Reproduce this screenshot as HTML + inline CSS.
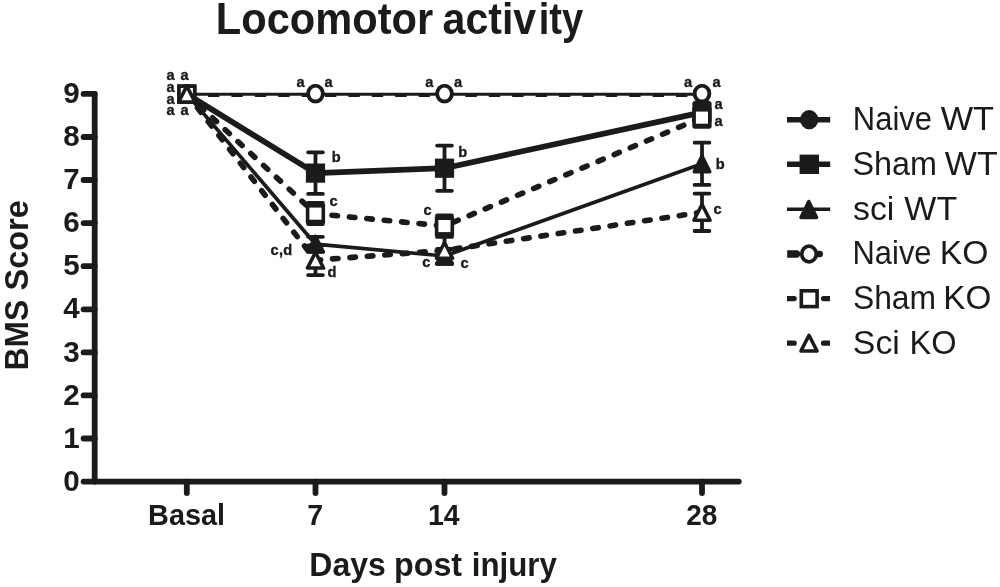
<!DOCTYPE html>
<html lang="en"><head><meta charset="utf-8"><title>Locomotor activity</title>
<style>html,body{margin:0;padding:0;background:#fff;}body{width:1000px;height:587px;overflow:hidden;}svg{display:block;}text{font-family:'Liberation Sans', sans-serif;fill:#1b1b1b;font-kerning:none;}</style>
</head><body>
<svg width="1000" height="587" viewBox="0 0 1000 587">
<rect width="1000" height="587" fill="#fff"/>
<g font-weight="bold">
<text y="34.0" font-size="44.3"><tspan x="215.81" textLength="217.42" lengthAdjust="spacingAndGlyphs">Locomotor</tspan> <tspan x="442.60" textLength="93.58" lengthAdjust="spacingAndGlyphs">activ</tspan><tspan x="538.74" textLength="44.47" lengthAdjust="spacingAndGlyphs">ity</tspan></text>
</g>
<g stroke="#1b1b1b" stroke-width="5.8" stroke-linecap="round" fill="none">
<path d="M94.7 93.8 V481.6"/>
<path d="M83.6 481.6 H738.8"/>
<path d="M83.6 438.5 H94.7"/>
<path d="M83.6 395.4 H94.7"/>
<path d="M83.6 352.4 H94.7"/>
<path d="M83.6 309.3 H94.7"/>
<path d="M83.6 266.2 H94.7"/>
<path d="M83.6 223.1 H94.7"/>
<path d="M83.6 180.0 H94.7"/>
<path d="M83.6 137.0 H94.7"/>
<path d="M83.6 93.9 H94.7"/>
<path d="M186.8 481.6 V493.1"/>
<path d="M315.5 481.6 V493.1"/>
<path d="M444.5 481.6 V493.1"/>
<path d="M702.0 481.6 V493.1"/>
</g>
<g font-weight="bold" font-size="29.6">
<text x="79.7" y="490.7" text-anchor="end">0</text>
<text x="79.7" y="447.6" text-anchor="end">1</text>
<text x="79.7" y="404.5" text-anchor="end">2</text>
<text x="79.7" y="361.5" text-anchor="end">3</text>
<text x="79.7" y="318.4" text-anchor="end">4</text>
<text x="79.7" y="275.3" text-anchor="end">5</text>
<text x="79.7" y="232.2" text-anchor="end">6</text>
<text x="79.7" y="189.1" text-anchor="end">7</text>
<text x="79.7" y="146.1" text-anchor="end">8</text>
<text x="79.7" y="103.0" text-anchor="end">9</text>
<text x="148.07" y="525.3" font-size="29.6" textLength="76.97" lengthAdjust="spacingAndGlyphs">Basal</text>
<text x="307.37" y="525.3" font-size="29.6" textLength="15.88" lengthAdjust="spacingAndGlyphs">7</text>
<text x="428.00" y="525.3" font-size="29.6" textLength="31.75" lengthAdjust="spacingAndGlyphs">14</text>
<text x="686.23" y="525.3" font-size="29.6" textLength="31.13" lengthAdjust="spacingAndGlyphs">28</text>
</g>
<g font-weight="bold">
<text y="576.4" font-size="33.2"><tspan x="309.36" textLength="76.45" lengthAdjust="spacingAndGlyphs">Days</tspan> <tspan x="394.08" textLength="68.02" lengthAdjust="spacingAndGlyphs">post</tspan> <tspan x="471.82" textLength="85.05" lengthAdjust="spacingAndGlyphs">injury</tspan></text>
<g transform="translate(27.7 0) rotate(-90)">
<text y="0.0" font-size="33.6"><tspan x="-370.43" textLength="70.67" lengthAdjust="spacingAndGlyphs">BMS</tspan> <tspan x="-290.54" textLength="90.25" lengthAdjust="spacingAndGlyphs">Score</tspan></text>
</g></g>
<g fill="none" stroke="#1b1b1b">
<path d="M186.8 95.1 H702.0" stroke-width="3.8" stroke-dasharray="11.4 12" stroke-dashoffset="-21.2"/>
<path d="M186.8 94.2 H702.0" stroke-width="3"/>
<polyline points="186.8,94.0 315.5,173.1 444.5,168.2 702.0,112.4" stroke-width="5.7" stroke-linejoin="round"/>
<polyline points="186.8,94.0 315.5,244.2 444.5,256.0 702.0,163.8" stroke-width="3.7" stroke-linejoin="round"/>
<polyline points="186.8,94.0 315.5,213.7 444.5,226.0 702.0,117.6" stroke-width="5.6" stroke-linecap="round" stroke-dasharray="5.6 11.88"/>
<polyline points="186.8,94.0 315.5,260.2 444.5,250.4 702.0,212.3" stroke-width="5.6" stroke-linecap="round" stroke-dasharray="5.6 11.88"/>
</g>
<g fill="none" stroke="#1b1b1b" stroke-width="3.8" stroke-linecap="round">
<path d="M315.5 152.3 V193.9 M308.1 152.3 H322.9 M308.1 193.9 H322.9"/>
<path d="M444.5 145.6 V190.8 M437.1 145.6 H451.9 M437.1 190.8 H451.9"/>
<path d="M315.5 236.8 V251.6 M308.1 236.8 H322.9 M308.1 251.6 H322.9"/>
<path d="M444.5 249.0 V263.0 M437.1 249.0 H451.9 M437.1 263.0 H451.9"/>
<path d="M702.0 142.7 V184.9 M694.6 142.7 H709.4 M694.6 184.9 H709.4"/>
<path d="M315.5 203.0 V224.0 M308.1 203.0 H322.9 M308.1 224.0 H322.9"/>
<path d="M444.5 215.5 V236.2 M437.1 215.5 H451.9 M437.1 236.2 H451.9"/>
<path d="M315.5 245.4 V275.1 M308.1 245.4 H322.9 M308.1 275.1 H322.9"/>
<path d="M444.5 236.9 V263.9 M437.1 236.9 H451.9 M437.1 263.9 H451.9"/>
<path d="M702.0 193.6 V231.0 M694.6 193.6 H709.4 M694.6 231.0 H709.4"/>
<path d="M702.0 103.0 V121.8 M694.6 103.0 H709.4 M694.6 121.8 H709.4"/>
<path d="M702.0 108.4 V126.8 M694.6 108.4 H709.4 M694.6 126.8 H709.4"/>
</g>
<ellipse cx="186.8" cy="93.7" rx="9.2" ry="9.6" fill="#1b1b1b"/>
<ellipse cx="315.5" cy="93.7" rx="9.2" ry="9.6" fill="#1b1b1b"/>
<ellipse cx="444.5" cy="93.7" rx="9.2" ry="9.6" fill="#1b1b1b"/>
<ellipse cx="702.0" cy="93.7" rx="9.2" ry="9.6" fill="#1b1b1b"/>
<rect x="177.2" y="84.4" width="19.2" height="19.2" fill="#1b1b1b"/>
<rect x="305.9" y="163.5" width="19.2" height="19.2" fill="#1b1b1b"/>
<rect x="434.9" y="158.6" width="19.2" height="19.2" fill="#1b1b1b"/>
<rect x="692.4" y="102.8" width="19.2" height="19.2" fill="#1b1b1b"/>
<path d="M186.8 86.1 L194.6 101.9 L179.0 101.9 Z" fill="#1b1b1b" stroke="#1b1b1b" stroke-width="3.5" stroke-linejoin="round"/>
<path d="M315.5 236.3 L323.3 252.1 L307.7 252.1 Z" fill="#1b1b1b" stroke="#1b1b1b" stroke-width="3.5" stroke-linejoin="round"/>
<path d="M444.5 248.1 L452.3 263.9 L436.7 263.9 Z" fill="#1b1b1b" stroke="#1b1b1b" stroke-width="3.5" stroke-linejoin="round"/>
<path d="M702.0 155.9 L709.8 171.7 L694.2 171.7 Z" fill="#1b1b1b" stroke="#1b1b1b" stroke-width="3.5" stroke-linejoin="round"/>
<ellipse cx="186.8" cy="93.6" rx="7.3" ry="7.85" fill="#fff" stroke="#1b1b1b" stroke-width="3.7"/>
<ellipse cx="315.5" cy="93.6" rx="7.3" ry="7.85" fill="#fff" stroke="#1b1b1b" stroke-width="3.7"/>
<ellipse cx="444.5" cy="93.6" rx="7.3" ry="7.85" fill="#fff" stroke="#1b1b1b" stroke-width="3.7"/>
<ellipse cx="702.0" cy="93.6" rx="7.3" ry="7.85" fill="#fff" stroke="#1b1b1b" stroke-width="3.7"/>
<rect x="179.0" y="86.2" width="15.7" height="15.7" fill="#fff" stroke="#1b1b1b" stroke-width="3.6"/>
<rect x="307.6" y="205.8" width="15.7" height="15.7" fill="#fff" stroke="#1b1b1b" stroke-width="3.6"/>
<rect x="436.6" y="218.2" width="15.7" height="15.7" fill="#fff" stroke="#1b1b1b" stroke-width="3.6"/>
<rect x="694.1" y="109.8" width="15.7" height="15.7" fill="#fff" stroke="#1b1b1b" stroke-width="3.6"/>
<path d="M186.8 86.1 L194.9 101.9 L178.7 101.9 Z" fill="#fff" stroke="#1b1b1b" stroke-width="3.5" stroke-linejoin="round"/>
<path d="M315.5 252.3 L323.6 268.1 L307.4 268.1 Z" fill="#fff" stroke="#1b1b1b" stroke-width="3.5" stroke-linejoin="round"/>
<path d="M444.5 242.5 L452.6 258.3 L436.4 258.3 Z" fill="#fff" stroke="#1b1b1b" stroke-width="3.5" stroke-linejoin="round"/>
<path d="M702.0 204.4 L710.1 220.2 L693.9 220.2 Z" fill="#fff" stroke="#1b1b1b" stroke-width="3.5" stroke-linejoin="round"/>
<g font-weight="bold" font-size="14.6" stroke="#1b1b1b" stroke-width="0.35">
<text x="166.4" y="80.0">a</text>
<text x="180.6" y="79.6">a</text>
<text x="166.4" y="91.7">a</text>
<text x="166.4" y="103.5">a</text>
<text x="166.4" y="115.2">a</text>
<text x="180.6" y="115.2">a</text>
<text x="296.5" y="86.8">a</text>
<text x="324.6" y="86.8">a</text>
<text x="425.2" y="86.8">a</text>
<text x="453.9" y="86.8">a</text>
<text x="684.1" y="86.7">a</text>
<text x="712.4" y="87.0">a</text>
<text x="714.4" y="108.6">a</text>
<text x="714.4" y="126.4">a</text>
<text x="331.8" y="161.5">b</text>
<text x="458.2" y="156.9">b</text>
<text x="715.7" y="168.6">b</text>
<text x="329.4" y="206.2">c</text>
<text x="270.6" y="255.3" letter-spacing="0.3">c,d</text>
<text x="327.6" y="276.8">d</text>
<text x="423.4" y="214.8">c</text>
<text x="422.2" y="267.4">c</text>
<text x="460.4" y="267.6">c</text>
<text x="713.4" y="213.6">c</text>
</g>
<g fill="none" stroke="#1b1b1b">
<path d="M787.0 119.8 H830.2" stroke-width="5.6"/>
<path d="M787.0 164.2 H830.2" stroke-width="5.6"/>
<path d="M787.0 209.3 H830.2" stroke-width="3.6"/>
</g>
<path d="M787.2 250.3 H796.5 A3.7 3.7 0 0 1 796.5 257.7 H787.2 Z" fill="#1b1b1b"/>
<path d="M810.0 250.7 H819.7 A3.3 3.3 0 0 1 819.7 257.3 H810.0 Z" fill="#1b1b1b"/>
<path d="M787.0 296.0 H794.2 A2.6 2.6 0 0 1 794.2 301.2 H787.0 Z" fill="#1b1b1b"/>
<path d="M830.0 296.0 H823.5 A2.6 2.6 0 0 0 823.5 301.2 H830.0 Z" fill="#1b1b1b"/>
<path d="M787.0 340.6 H794.2 A2.6 2.6 0 0 1 794.2 345.8 H787.0 Z" fill="#1b1b1b"/>
<path d="M830.0 340.6 H823.5 A2.6 2.6 0 0 0 823.5 345.8 H830.0 Z" fill="#1b1b1b"/>
<ellipse cx="809.2" cy="119.7" rx="9.2" ry="9.6" fill="#1b1b1b"/>
<rect x="799.6" y="154.6" width="19.4" height="19.4" fill="#1b1b1b"/>
<path d="M808.8 201.6 L816.6 217.4 L801.0 217.4 Z" fill="#1b1b1b" stroke="#1b1b1b" stroke-width="3.5" stroke-linejoin="round"/>
<ellipse cx="809.0" cy="254.0" rx="7.3" ry="7.85" fill="#fff" stroke="#1b1b1b" stroke-width="3.7"/>
<rect x="801.3" y="290.8" width="15.8" height="15.8" fill="#fff" stroke="#1b1b1b" stroke-width="3.6"/>
<path d="M809.0 335.3 L817.1 351.1 L800.9 351.1 Z" fill="#fff" stroke="#1b1b1b" stroke-width="3.5" stroke-linejoin="round"/>
<g>
<text y="129.9" font-size="33.3"><tspan x="852.86" textLength="79.11" lengthAdjust="spacingAndGlyphs">Naive</tspan> <tspan x="940.75" textLength="53.34" lengthAdjust="spacingAndGlyphs">WT</tspan></text>
<text y="174.8" font-size="33.3"><tspan x="852.53" textLength="84.50" lengthAdjust="spacingAndGlyphs">Sham</tspan> <tspan x="944.85" textLength="52.83" lengthAdjust="spacingAndGlyphs">WT</tspan></text>
<text y="219.8" font-size="33.3"><tspan x="853.06" textLength="41.32" lengthAdjust="spacingAndGlyphs">sci</tspan> <tspan x="904.35" textLength="52.83" lengthAdjust="spacingAndGlyphs">WT</tspan></text>
<text y="264.0" font-size="33.3"><tspan x="852.56" textLength="79.01" lengthAdjust="spacingAndGlyphs">Naive</tspan> <tspan x="939.84" textLength="48.57" lengthAdjust="spacingAndGlyphs">KO</tspan></text>
<text y="309.0" font-size="33.3"><tspan x="852.95" textLength="83.14" lengthAdjust="spacingAndGlyphs">Sham</tspan> <tspan x="943.37" textLength="48.02" lengthAdjust="spacingAndGlyphs">KO</tspan></text>
<text y="353.8" font-size="33.3"><tspan x="852.86" textLength="47.02" lengthAdjust="spacingAndGlyphs">Sci</tspan> <tspan x="909.53" textLength="47.03" lengthAdjust="spacingAndGlyphs">KO</tspan></text>
</g>
</svg></body></html>
